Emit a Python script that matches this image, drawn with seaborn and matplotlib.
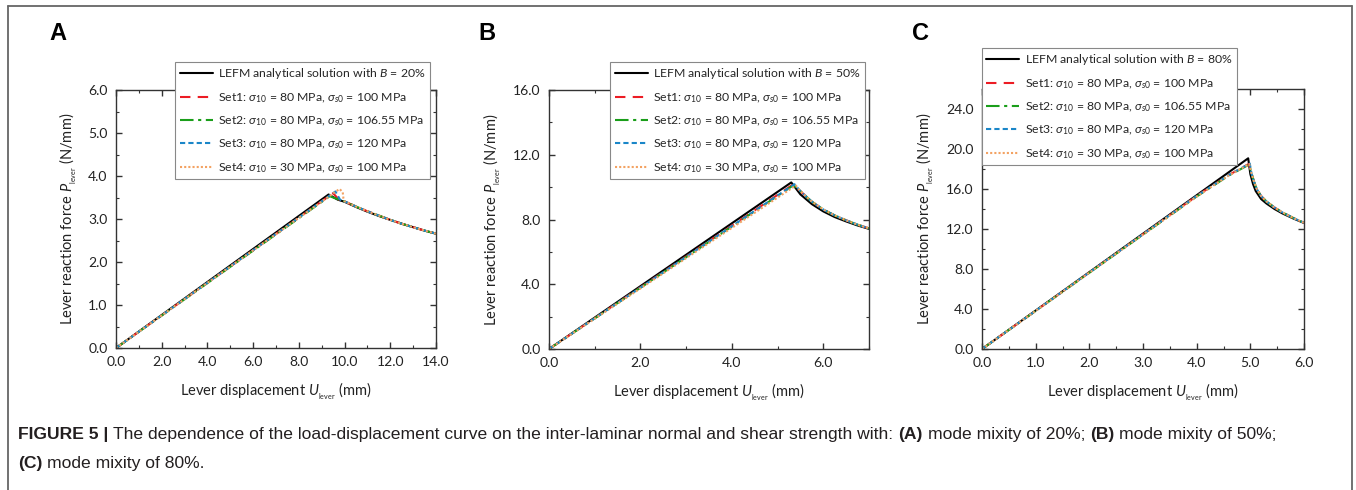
import numpy as np
import pandas as pd
import matplotlib
matplotlib.use('Agg')
import matplotlib.pyplot as plt
from matplotlib.lines import Line2D
from matplotlib.ticker import MultipleLocator, FormatStrFormatter
import seaborn as sns

# ---------------- data ----------------
panel_letters = ['A', 'B', 'C']
mixities = ['20%', '50%', '80%']
set_labels = [
    r'Set1: $\sigma_{10}$ = 80 MPa, $\sigma_{s0}$ = 100 MPa',
    r'Set2: $\sigma_{10}$ = 80 MPa, $\sigma_{s0}$ = 106.55 MPa',
    r'Set3: $\sigma_{10}$ = 80 MPa, $\sigma_{s0}$ = 120 MPa',
    r'Set4: $\sigma_{10}$ = 30 MPa, $\sigma_{s0}$ = 100 MPa',
]

# panel A (B = 20%)
a_lefm_x = [0, 9.30, 9.70, 10.0, 10.5, 11.0, 11.5, 12.0, 12.5, 13.0, 13.5, 14.0]
a_lefm_y = [0, 3.57, 3.45, 3.40, 3.28, 3.17, 3.07, 2.98, 2.89, 2.81, 2.73, 2.66]
a_tail_x = [10.0, 10.5, 11.0, 11.5, 12.0, 12.5, 13.0, 13.5, 14.0]
a_tail_y = [3.41, 3.29, 3.18, 3.08, 2.98, 2.89, 2.81, 2.73, 2.66]
a_set1_x = [0, 9.50, 9.75]
a_set1_y = [0, 3.60, 3.45]
a_set2_x = [0, 9.35, 9.70]
a_set2_y = [0, 3.53, 3.46]
a_set3_x = [0, 9.60, 9.80]
a_set3_y = [0, 3.64, 3.45]
a_set4_x = [0, 9.78, 9.92, 9.95]
a_set4_y = [0, 3.70, 3.62, 3.48]

# panel B (B = 50%)
b_lefm_x = [0, 5.30, 5.50, 5.75, 6.00, 6.25, 6.50, 6.75, 7.00]
b_lefm_y = [0, 10.29, 9.55, 8.95, 8.50, 8.15, 7.88, 7.63, 7.42]
b_tail_x = [5.50, 5.75, 6.00, 6.25, 6.50, 6.75, 7.00]
b_tail_y = [9.75, 9.10, 8.62, 8.25, 7.95, 7.68, 7.45]
b_set1_x = [0, 5.33]
b_set1_y = [0, 10.15]
b_set2_x = [0, 5.35]
b_set2_y = [0, 10.12]
b_set3_x = [0, 5.37]
b_set3_y = [0, 10.18]
b_set4_x = [0, 5.40]
b_set4_y = [0, 10.10]

# panel C (B = 80%)
c_lefm_x = [0, 4.96, 5.00, 5.05, 5.10, 5.20, 5.30, 5.45, 5.60, 5.80, 6.00]
c_lefm_y = [0, 19.07, 17.50, 16.50, 15.80, 15.00, 14.55, 14.00, 13.55, 13.05, 12.60]
c_tail_x = [5.02, 5.07, 5.12, 5.20, 5.30, 5.45, 5.60, 5.80, 6.00]
c_tail_y = [17.60, 16.70, 16.00, 15.30, 14.75, 14.15, 13.65, 13.10, 12.62]
c_set1_x = [0, 4.00, 4.60, 4.97]
c_set1_y = [0, 15.30, 17.40, 18.50]
c_set2_x = [0, 4.00, 4.60, 4.98]
c_set2_y = [0, 15.25, 17.35, 18.45]
c_set3_x = [0, 4.00, 4.60, 4.99]
c_set3_y = [0, 15.30, 17.40, 18.55]
c_set4_x = [0, 4.00, 4.60, 4.98]
c_set4_y = [0, 15.25, 17.35, 18.50]

panels = [
    dict(lefm=(a_lefm_x, a_lefm_y), tail=(a_tail_x, a_tail_y),
         sets=[(a_set1_x, a_set1_y), (a_set2_x, a_set2_y), (a_set3_x, a_set3_y), (a_set4_x, a_set4_y)],
         xlim=14, ylim=6, xmaj=2, xmin=1, ymaj=1, ymin=0.5),
    dict(lefm=(b_lefm_x, b_lefm_y), tail=(b_tail_x, b_tail_y),
         sets=[(b_set1_x, b_set1_y), (b_set2_x, b_set2_y), (b_set3_x, b_set3_y), (b_set4_x, b_set4_y)],
         xlim=7, ylim=16, xmaj=2, xmin=1, ymaj=4, ymin=2),
    dict(lefm=(c_lefm_x, c_lefm_y), tail=(c_tail_x, c_tail_y),
         sets=[(c_set1_x, c_set1_y), (c_set2_x, c_set2_y), (c_set3_x, c_set3_y), (c_set4_x, c_set4_y)],
         xlim=6, ylim=26, xmaj=1, xmin=0.5, ymaj=4, ymin=2),
]

colors = ['#000000', '#ec1c24', '#1a9e1a', '#1a86c8', '#f3a262']
dash_styles = ['', (5, 3.5), (6.5, 2.2, 1.5, 2.2), (2.5, 1.5), (1, 1)]

# ---------------- style ----------------
sns.set_style('ticks')
plt.rcParams['font.family'] = ['Lato', 'DejaVu Sans']
plt.rcParams['mathtext.fontset'] = 'custom'
plt.rcParams['mathtext.rm'] = 'Lato'
plt.rcParams['mathtext.it'] = 'Lato:italic'
plt.rcParams['mathtext.bf'] = 'Lato:bold'
plt.rcParams['axes.edgecolor'] = '#333333'
plt.rcParams['axes.linewidth'] = 1.0

fig = plt.figure(figsize=(13.56, 4.90), dpi=100)

axes_pos = [
    [116 / 1356, 1 - 348 / 490, 320 / 1356, 258 / 490],
    [549 / 1356, 1 - 349 / 490, 320 / 1356, 259 / 490],
    [982 / 1356, 1 - 349 / 490, 322 / 1356, 260 / 490],
]
legend_anchor = [(430 / 1356, 1 - 62 / 490, 'upper right'),
                 (865 / 1356, 1 - 62 / 490, 'upper right'),
                 (982 / 1356, 1 - 48 / 490, 'upper left')]
letter_x = [49, 478, 912]

for i, p in enumerate(panels):
    ax = fig.add_axes(axes_pos[i])
    labels = [r'LEFM analytical solution with $B$ = ' + mixities[i]] + set_labels
    rows = []
    lx, ly = p['lefm']
    for x, y in zip(lx, ly):
        rows.append((x, y, labels[0]))
    for k, (sx, sy) in enumerate(p['sets']):
        xs = list(sx) + list(p['tail'][0])
        ys = list(sy) + list(p['tail'][1])
        for x, y in zip(xs, ys):
            rows.append((x, y, labels[k + 1]))
    df = pd.DataFrame(rows, columns=['u', 'p', 'curve'])

    sns.lineplot(data=df, x='u', y='p', hue='curve', style='curve',
                 hue_order=labels, style_order=labels,
                 palette=dict(zip(labels, colors)),
                 dashes=dict(zip(labels, dash_styles)),
                 sort=False, estimator=None, linewidth=1.5, ax=ax)

    ax.set_xlim(0, p['xlim'])
    ax.set_ylim(0, p['ylim'])
    ax.xaxis.set_major_locator(MultipleLocator(p['xmaj']))
    ax.xaxis.set_minor_locator(MultipleLocator(p['xmin']))
    ax.yaxis.set_major_locator(MultipleLocator(p['ymaj']))
    ax.yaxis.set_minor_locator(MultipleLocator(p['ymin']))
    ax.xaxis.set_major_formatter(FormatStrFormatter('%.1f'))
    ax.yaxis.set_major_formatter(FormatStrFormatter('%.1f'))
    ax.tick_params(which='both', direction='in', top=True, right=True,
                   color='#333333', labelsize=10, labelcolor='#222222')
    ax.tick_params(which='major', length=4.5, width=1.0, pad=6)
    ax.tick_params(which='minor', length=2.5, width=0.8)
    for s in ax.spines.values():
        s.set_visible(True)

    ax.set_xlabel(r'Lever displacement $U_{_{\mathregular{lever}}}$ (mm)', fontsize=10.5,
                  color='#222222', labelpad=9)
    ax.set_ylabel(r'Lever reaction force $P_{_{\mathregular{lever}}}$ (N/mm)', fontsize=10.5,
                  color='#222222', labelpad=7)

    handles, hl = ax.get_legend_handles_labels()
    ax_, ay_, loc = legend_anchor[i]
    leg = ax.legend(handles, hl, loc=loc, bbox_to_anchor=(ax_, ay_),
                    bbox_transform=fig.transFigure, fontsize=8.8, frameon=True,
                    fancybox=False, edgecolor='#888888', framealpha=1,
                    handlelength=2.7, handletextpad=0.45, labelspacing=0.8,
                    borderpad=0.35, borderaxespad=0)
    leg.get_frame().set_linewidth(0.8)
    leg.set_zorder(5)

    fig.text(letter_x[i] / 1356, 1 - 34 / 490, panel_letters[i], fontsize=17,
             fontweight='bold', family=['Liberation Sans', 'DejaVu Sans'],
             va='center', ha='left', color='black')

# outer frame of the figure panel
frame_kw = dict(transform=fig.transFigure, color='#666666', linewidth=1.3)
fig.add_artist(Line2D([8 / 1356, 1352 / 1356], [1 - 6 / 490, 1 - 6 / 490], **frame_kw))
fig.add_artist(Line2D([8 / 1356, 8 / 1356], [0, 1 - 6 / 490], **frame_kw))
fig.add_artist(Line2D([1352 / 1356, 1352 / 1356], [0, 1 - 6 / 490], **frame_kw))

# caption with bold runs
cap_font = ['Liberation Sans', 'DejaVu Sans']
cap_fs = 12.6
cap_color = '#231f20'
renderer = fig.canvas.get_renderer()


def text_width(s, weight):
    t = fig.text(0, 0, s, fontsize=cap_fs, fontweight=weight, family=cap_font)
    w = t.get_window_extent(renderer).width
    t.remove()
    return w


space_w = text_width('x x', 'normal') - text_width('xx', 'normal')


def put_runs(runs, x0, y):
    x = x0
    for s, w in runs:
        t = fig.text(x / 1356, 1 - y / 490, s, fontsize=cap_fs, fontweight=w,
                     family=cap_font, color=cap_color, va='baseline', ha='left')
        x += t.get_window_extent(renderer).width + space_w


caption1 = [('FIGURE 5 |', 'bold'),
            ('The dependence of the load-displacement curve on the inter-laminar normal and shear strength with:', 'normal'),
            ('(A)', 'bold'), ('mode mixity of 20%;', 'normal'),
            ('(B)', 'bold'), ('mode mixity of 50%;', 'normal')]
caption2 = [('(C)', 'bold'), ('mode mixity of 80%.', 'normal')]
put_runs(caption1, 18, 439)
put_runs(caption2, 18, 468)

fig.savefig('out.png', dpi=100)
